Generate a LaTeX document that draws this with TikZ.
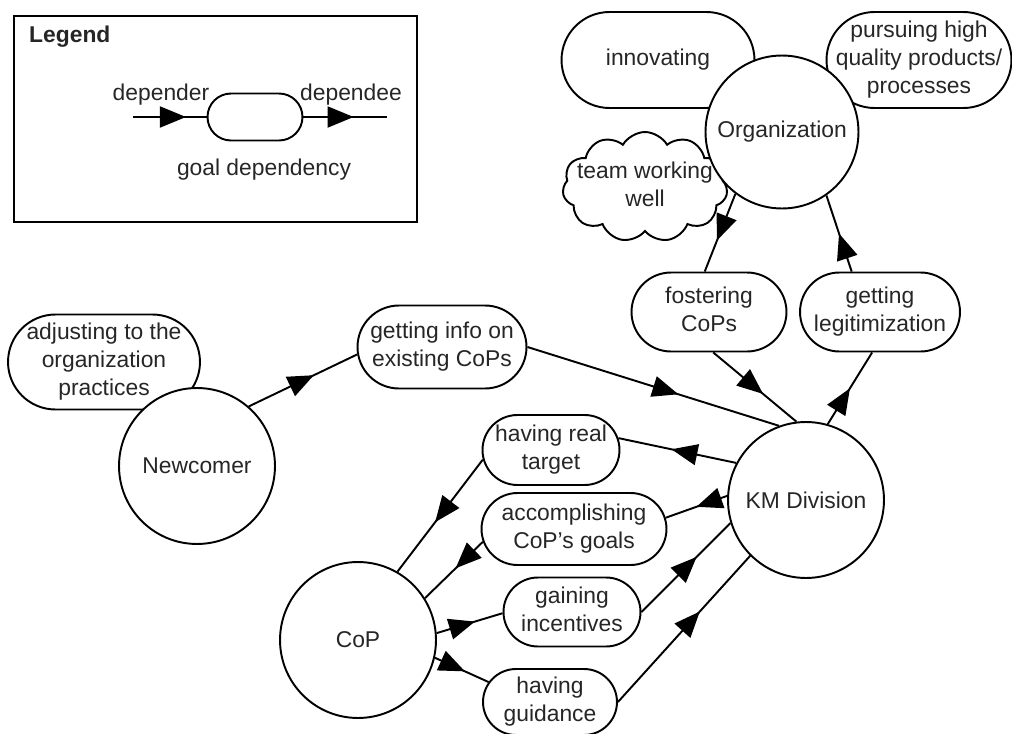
\documentclass[tikz,border=0pt]{standalone}
\usepackage{fontspec}
\setmainfont{Liberation Sans}
\usetikzlibrary{shapes.misc}
\usetikzlibrary{shapes.symbols}
\usetikzlibrary{arrows.meta}
\usetikzlibrary{decorations.markings}
\tikzset{actor/.style={circle, draw, fill=white, line width=1.1pt, minimum size=3.12cm, inner sep=0pt}}
\tikzset{goal/.style={rounded rectangle, draw, fill=white, line width=1.1pt, inner sep=0pt}}
\tikzset{softgoal/.style={cloud, cloud puffs=11, cloud puff arc=120, cloud ignores aspect, draw, fill=white, line width=1.1pt, inner sep=0pt}}
\tikzset{dep/.style={line width=1.1pt, postaction={decorate}, decoration={markings, mark=at position #1 with {\arrow{Triangle[length=0.52cm,width=0.42cm]}}}}}
\newcommand{\goaltext}[1]{\makebox[0pt]{\begin{tabular}{@{}c@{}}#1\end{tabular}}}

\begin{document}
\begin{tikzpicture}[x=0.02cm, y=-0.02cm, font=\fontsize{13}{16}\selectfont, text=black!85]
  \useasboundingbox (0,0) rectangle (1012,734);
  % legend
  \node[draw, line width=1.4pt, minimum width=8.06cm, minimum height=4.12cm, inner sep=0pt] (legend) at (215.5,119) {};
  \node[anchor=west, font=\fontsize{13}{16}\selectfont\bfseries] (legendtitle) at (23,37) {Legend};
  \node[goal, minimum width=1.9cm, minimum height=0.94cm] (lgoal) at (255,117) {};
  \coordinate (lin) at (133,117);
  \coordinate (lout) at (387,117);
  \draw[dep=0.72] (lin) -- (lgoal.west);
  \draw[dep=0.6] (lgoal.east) -- (lout);
  \node (depender) at (161,95) {depender};
  \node (dependee) at (351,95) {dependee};
  \node (goaldep) at (264,170) {goal dependency};

  % organization
  \node[goal, minimum width=3.86cm, minimum height=1.92cm] (innov) at (658,60) {\goaltext{innovating}};
  \node[goal, minimum width=3.7cm, minimum height=1.92cm] (pursue) at (919,60) {\goaltext{pursuing high\\quality products/\\processes}};
  \node[softgoal, minimum width=3.3cm, minimum height=2.2cm] (team) at (645,187) {\goaltext{team working\\well}};
  \node[actor, minimum size=3.06cm] (org) at (782,132) {Organization};
  \node[goal, minimum width=3.1cm, minimum height=1.58cm] (foster) at (709,312) {\goaltext{fostering\\CoPs}};
  \node[goal, minimum width=3.2cm, minimum height=1.58cm] (legit) at (880,312) {\goaltext{getting\\legitimization}};

  % newcomer
  \node[goal, minimum width=3.84cm, minimum height=1.9cm] (adjust) at (104,362) {\goaltext{adjusting to the\\organization\\practices}};
  \node[actor] (newcomer) at (197,466) {Newcomer};
  \node[goal, minimum width=3.38cm, minimum height=1.66cm] (info) at (442,347) {\goaltext{getting info on\\existing CoPs}};

  % km division and cop
  \node[actor] (km) at (806,500) {KM Division};
  \node[actor] (cop) at (358,640) {CoP};
  \node[goal, minimum width=2.74cm, minimum height=1.4cm] (target) at (551,450) {\goaltext{having real\\target}};
  \node[goal, minimum width=3.7cm, minimum height=1.44cm] (accomp) at (574,529) {\goaltext{accomplishing\\CoP's goals}};
  \node[goal, minimum width=2.74cm, minimum height=1.38cm] (incent) at (572,612) {\goaltext{gaining\\incentives}};
  \node[goal, minimum width=2.68cm, minimum height=1.32cm] (guide) at (550,702) {\goaltext{having\\guidance}};

  \draw[dep=0.6] (newcomer.49) -- (info.185);
  \draw[dep=0.6] (info.0) -- (km.110);
  \draw[dep=0.6] (org.233) -- (foster.96);
  \draw[dep=0.6] (foster.276) -- (km.97);
  \draw[dep=0.5] (km.74) -- (legit.259);
  \draw[dep=0.5] (legit.125) -- (org.305);
  \draw[dep=0.55] (km.152) -- (target.10);
  \draw[dep=0.56] (target.188) -- (cop.60);
  \draw[dep=0.5] (km.177) -- (accomp.7);
  \draw[dep=0.47] (accomp.188) -- (cop.32);
  \draw[dep=0.58] (cop.5) -- (incent.181);
  \draw[dep=0.62] (incent.0) -- (km.197);
  \draw[dep=0.56] (cop.347) -- (guide.162);
  \draw[dep=0.62] (guide.0) -- (km.225);
\end{tikzpicture}
\end{document}
